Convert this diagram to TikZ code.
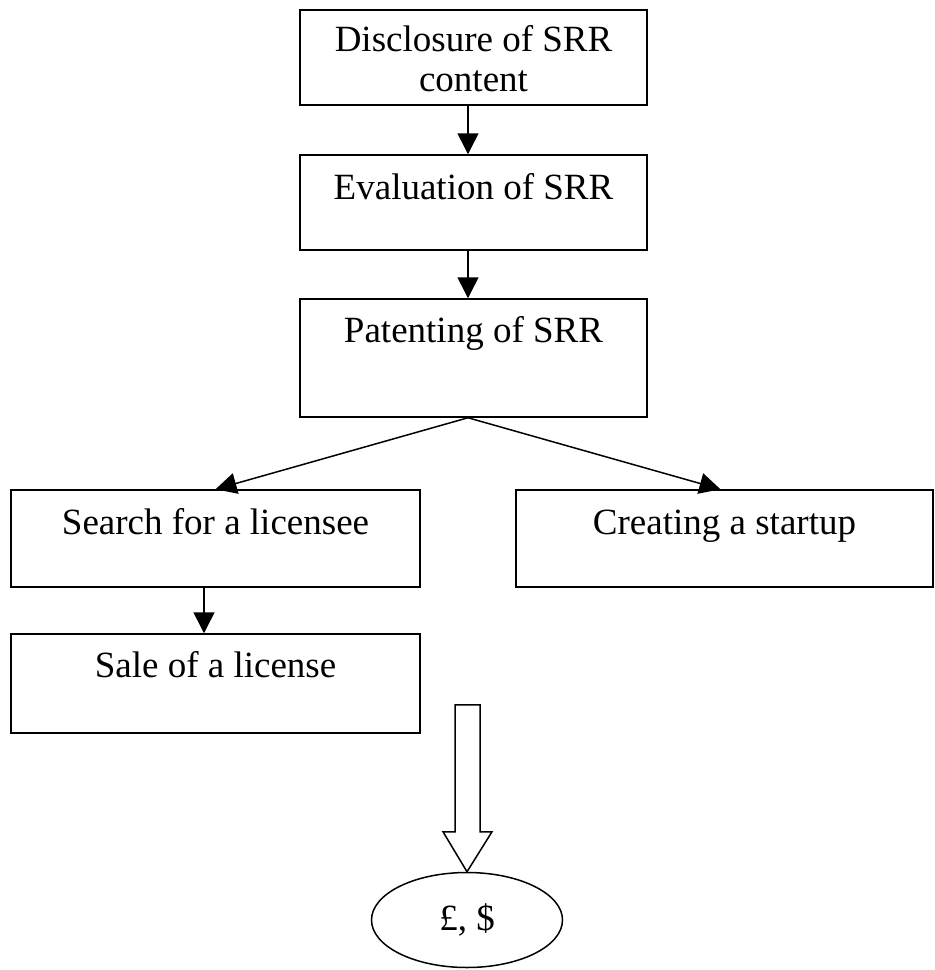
\documentclass[tikz,border=0pt]{standalone}
\usepackage{fontspec}
\setmainfont{Liberation Serif}
\usetikzlibrary{arrows.meta,shapes.geometric}
\begin{document}
\begin{tikzpicture}[x=1pt,y=-1pt,
  box/.style={draw, line width=1.5pt, rectangle, inner sep=0pt},
  lbl/.style={anchor=base, inner sep=0pt, font=\fontsize{37}{40}\selectfont, align=center},
  flow/.style={line width=1.5pt, -{Triangle[length=21pt,width=21pt]}},
  oval/.style={draw, line width=1.5pt, ellipse, inner sep=0pt}
]
\useasboundingbox (0,0) rectangle (935,970);

% process boxes
\node[box, minimum width=347pt, minimum height=95pt] (disc) at (473.5,57.5) {};
\node[box, minimum width=347pt, minimum height=95pt] (eval) at (473.5,202.5) {};
\node[box, minimum width=347pt, minimum height=118pt] (pat) at (473.5,358) {};
\node[box, minimum width=409pt, minimum height=97pt] (search) at (215.5,538.5) {};
\node[box, minimum width=417pt, minimum height=97pt] (start) at (724.5,538.5) {};
\node[box, minimum width=409pt, minimum height=99pt] (sale) at (215.5,683.5) {};
\node[oval, minimum width=191pt, minimum height=95pt] (money) at (467,920) {};

% box texts (base anchor sits on the last line)
\node[lbl] (discT) at ([yshift=-82pt]disc.north) {Disclosure of SRR\\content};
\node[lbl] (evalT) at ([yshift=-45pt]eval.north) {Evaluation of SRR};
\node[lbl] (patT) at ([yshift=-44pt]pat.north) {Patenting of SRR};
\node[lbl] (searchT) at ([yshift=-45pt]search.north) {Search for a licensee};
\node[lbl] (startT) at ([yshift=-45pt]start.north) {Creating a startup};
\node[lbl] (saleT) at ([yshift=-44pt]sale.north) {Sale of a license};
\node[lbl] (moneyT) at ([yshift=-10pt]money.center) {£, \$};

% connectors
\draw[flow] ([xshift=-5.5pt]disc.south) -- ([xshift=-5.5pt]eval.north);
\draw[flow] ([xshift=-5.5pt]eval.south) -- ([xshift=-5.5pt]pat.north);
\coordinate (fork) at ([xshift=-5.5pt]pat.south);
\draw[flow] (fork) -- (search.north);
\draw[flow] (fork) -- ([xshift=-4pt]start.north);
\draw[flow] ([xshift=-11.5pt]search.south) -- ([xshift=-11.5pt]sale.north);

% hollow block arrow into the oval
\coordinate (tip) at (money.north);
\draw[line width=1.5pt, line join=miter, fill=white]
  ([xshift=-12pt,yshift=167pt]tip) -- ([xshift=13pt,yshift=167pt]tip)
  -- ([xshift=13pt,yshift=40pt]tip) -- ([xshift=25pt,yshift=40pt]tip)
  -- (tip) -- ([xshift=-24pt,yshift=40pt]tip)
  -- ([xshift=-12pt,yshift=40pt]tip) -- cycle;
\end{tikzpicture}
\end{document}
